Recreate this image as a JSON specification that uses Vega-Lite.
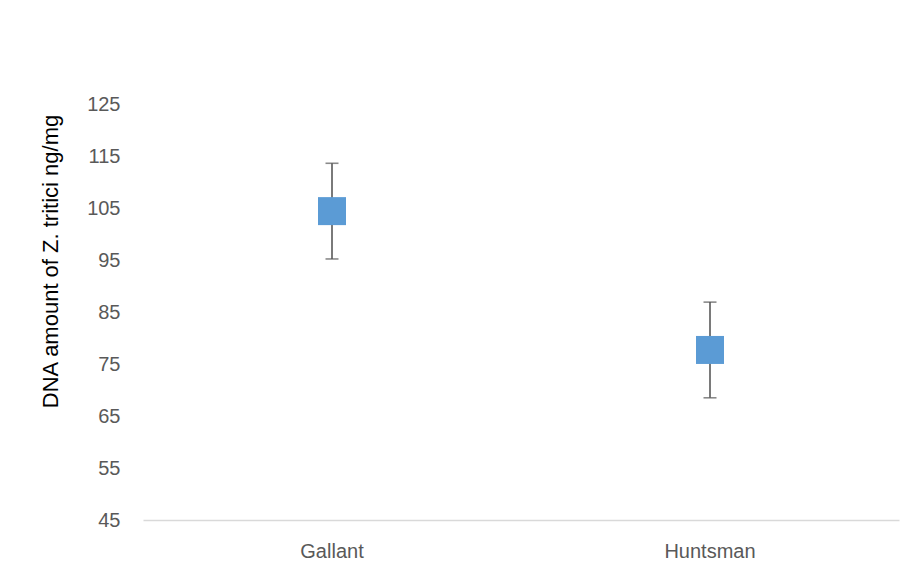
{
  "$schema": "https://vega.github.io/schema/vega-lite/v6.json",
  "autosize": {"type": "none"},
  "width": 756,
  "height": 416,
  "padding": {"left": 143, "top": 104, "right": 18, "bottom": 58},
  "background": "white",
  "config": {"view": {"stroke": null}, "font": "Liberation Sans"},
  "data": {"values": [
    {"cultivar": "Gallant", "mean": 104.4, "lo": 95.2, "hi": 113.6},
    {"cultivar": "Huntsman", "mean": 77.7, "lo": 68.5, "hi": 86.9}
  ]},
  "encoding": {
    "x": {"field": "cultivar", "type": "nominal", "sort": null,
      "scale": {"paddingInner": 0, "paddingOuter": 0},
      "axis": {"title": null, "labelAngle": 0, "ticks": false, "domainColor": "#d9d9d9", "domainWidth": 1.5,
        "labelColor": "#595959", "labelFont": "Liberation Sans", "labelFontSize": 20, "labelPadding": 21}}
  },
  "layer": [
    {"mark": {"type": "rule", "color": "#595959", "strokeWidth": 1.6},
     "encoding": {
       "y": {"field": "lo", "type": "quantitative",
         "scale": {"domain": [45, 125], "nice": false, "zero": false},
         "axis": {"values": [45, 55, 65, 75, 85, 95, 105, 115, 125], "grid": false, "domain": false, "ticks": false,
           "labelColor": "#595959", "labelFont": "Liberation Sans", "labelFontSize": 20, "labelPadding": 23,
           "title": "DNA amount of Z. tritici  ng/mg", "titleFont": "Liberation Sans", "titleFontSize": 22,
           "titleFontWeight": "normal", "titleColor": "#000000", "titleAngle": -90, "titleX": -86, "titleY": 157,
           "titleAlign": "center", "titleBaseline": "alphabetic"}},
       "y2": {"field": "hi"}
     }},
    {"mark": {"type": "tick", "color": "#595959", "size": 13, "thickness": 1.6, "orient": "horizontal"},
     "encoding": {"y": {"field": "lo", "type": "quantitative"}}},
    {"mark": {"type": "tick", "color": "#595959", "size": 13, "thickness": 1.6, "orient": "horizontal"},
     "encoding": {"y": {"field": "hi", "type": "quantitative"}}},
    {"mark": {"type": "point", "shape": "square", "filled": true, "size": 784, "color": "#5B9BD5", "opacity": 1},
     "encoding": {"y": {"field": "mean", "type": "quantitative"}}}
  ]
}
